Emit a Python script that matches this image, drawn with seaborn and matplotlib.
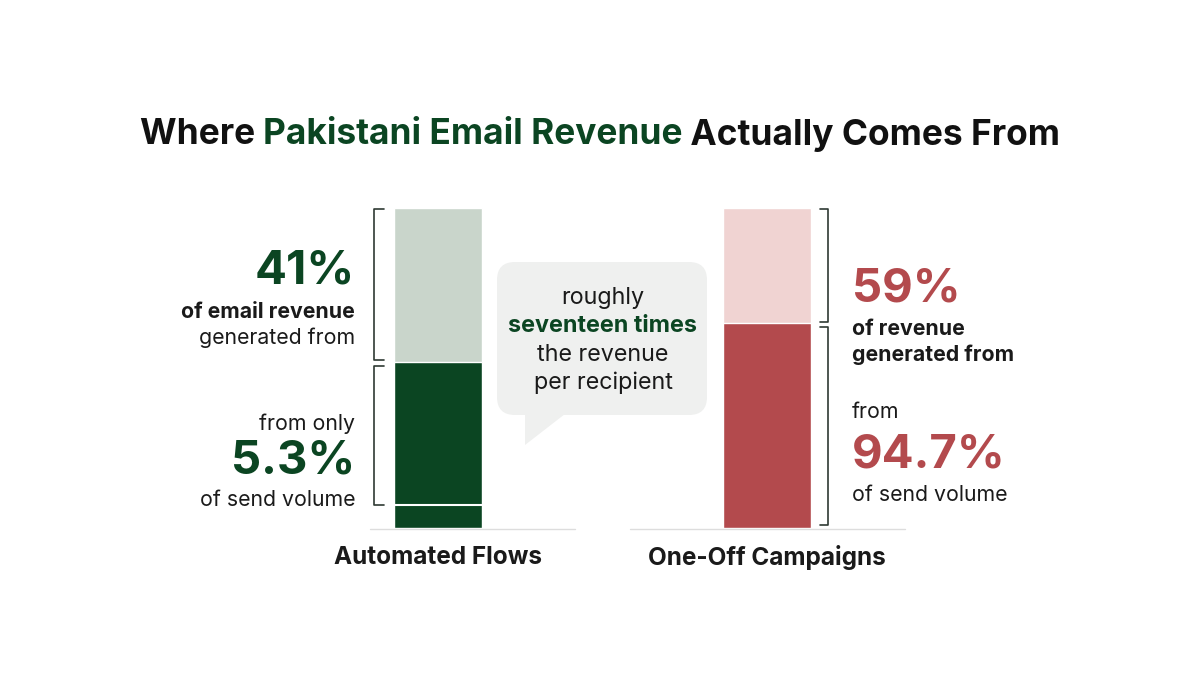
import matplotlib
matplotlib.use("Agg")
import matplotlib.pyplot as plt
import seaborn as sns
import pandas as pd
from matplotlib.patches import FancyBboxPatch, Polygon

categories = ["Automated Flows", "One-Off Campaigns"]
bar_total = [100, 100]
bar_lower = [52, 64]          # drawn height of lower (dark) segment
flows_volume_mark = 7.2       # thin divider in the flows bar
light_colors = ["#C9D5CB", "#F0D3D2"]
dark_colors = ["#0B4522", "#B34A4D"]

sns.set_theme(style="white")
plt.rcParams['font.family'] = ['Inter', 'DejaVu Sans']

fig = plt.figure(figsize=(12, 6.75), dpi=100)
fig.patch.set_facecolor("white")

W, H = 1200, 675
bax = fig.add_axes([273.5 / W, (H - 528) / H, 658 / W, 320 / H])
df = pd.DataFrame({"cat": categories, "total": bar_total, "lower": bar_lower})
sns.barplot(data=df, x="cat", y="total", hue="cat", palette=light_colors, width=0.27,
            legend=False, ax=bax, saturation=1)
sns.barplot(data=df, x="cat", y="lower", hue="cat", palette=dark_colors, width=0.27,
            legend=False, ax=bax, saturation=1)
bax.set_xlim(-0.5, 1.5)
bax.set_ylim(0, 100)
bax.axis("off")
bax.hlines(flows_volume_mark, -0.135, 0.135, color="white", lw=1.5)

ov = fig.add_axes([0, 0, 1, 1], zorder=5)
ov.set_xlim(0, W)
ov.set_ylim(H, 0)
ov.axis("off")
ov.patch.set_alpha(0)

# title with two colours
fig.canvas.draw()
r = fig.canvas.get_renderer()
parts = [("Where ", "#111111"), ("Pakistani Email Revenue", "#0B4522"), (" Actually Comes From", "#111111")]
tmp = []
for s, c in parts:
    t = ov.text(0, 135, s, fontsize=25.4, fontweight="bold", color=c, va="center", ha="left")
    tmp.append(t)
widths = [t.get_window_extent(r).width for t in tmp]
x = 600 - sum(widths) / 2
for t, w in zip(tmp, widths):
    t.set_x(x)
    x += w

G = "#0B4522"; R = "#B34A4D"; K = "#1a1a1a"
fs = 15.3
# left texts
ov.text(355, 272, "41%", fontsize=34, fontweight="bold", color=G, ha="right", va="center")
ov.text(355, 312, "of email revenue", fontsize=fs, fontweight="bold", color=K, ha="right", va="center")
ov.text(355, 338, "generated from", fontsize=fs, color=K, ha="right", va="center")
ov.text(355, 424, "from only", fontsize=fs, color=K, ha="right", va="center")
ov.text(355, 462, "5.3%", fontsize=34, fontweight="bold", color=G, ha="right", va="center")
ov.text(355, 500, "of send volume", fontsize=fs, color=K, ha="right", va="center")
# right texts
ov.text(852, 290, "59%", fontsize=34, fontweight="bold", color=R, ha="left", va="center")
ov.text(852, 329, "of revenue", fontsize=fs, fontweight="bold", color=K, ha="left", va="center")
ov.text(852, 355, "generated from", fontsize=fs, fontweight="bold", color=K, ha="left", va="center")
ov.text(852, 412, "from", fontsize=fs, color=K, ha="left", va="center")
ov.text(852, 455, "94.7%", fontsize=34, fontweight="bold", color=R, ha="left", va="center")
ov.text(852, 495, "of send volume", fontsize=fs, color=K, ha="left", va="center")

# brackets
def bracket(xv, xe, y0, y1):
    ov.plot([xe, xv, xv, xe], [y0, y0, y1, y1], color="#2f3a33", lw=1.2)
bracket(374, 384, 209, 360)
bracket(374, 384, 366, 505)
bracket(828, 820, 209, 322)
bracket(828, 820, 327, 525)

# baselines
ov.plot([370, 575], [529, 529], color="#dddddd", lw=1)
ov.plot([630, 905], [529, 529], color="#dddddd", lw=1)

# bubble
bub = FancyBboxPatch((497, 262), 210, 153, boxstyle="round,pad=0,rounding_size=18",
                     fc="#EFF0EF", ec="none")
ov.add_patch(bub)
ov.add_patch(Polygon([[525, 405], [525, 445], [565, 414]], closed=True, fc="#EFF0EF", ec="none"))
bs = 16.8
ov.text(603, 298, "roughly", fontsize=bs, color=K, ha="center", va="center")
ov.text(603, 326, "seventeen times", fontsize=bs, fontweight="bold", color=G, ha="center", va="center")
ov.text(603, 355, "the revenue", fontsize=bs, color=K, ha="center", va="center")
ov.text(603, 383, "per recipient", fontsize=bs, color=K, ha="center", va="center")

# category labels
ov.text(438, 558, categories[0], fontsize=17.5, fontweight="bold", color=K, ha="center", va="center")
ov.text(767, 558, categories[1], fontsize=17.5, fontweight="bold", color=K, ha="center", va="center")

fig.savefig("out.png", dpi=100, facecolor="white")
